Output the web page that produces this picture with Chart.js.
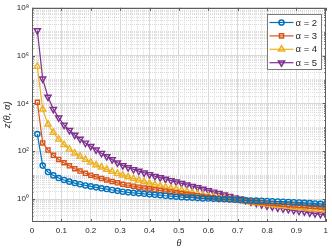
<!DOCTYPE html>
<html>
<head>
<meta charset="utf-8">
<script src="https://cdn.jsdelivr.net/npm/chart.js@4.4.1/dist/chart.umd.min.js"></script>
<style>
    html, body { margin: 0; padding: 0; background: #fff; }
    #wrap { width: 332px; height: 249px; }
</style>
</head>
<body>
<div id="wrap"><canvas id="zChart" width="332" height="249"></canvas></div>
<script>
// theta grid (k/55)
const theta = [0.0182, 0.0364, 0.0545, 0.0727, 0.0909, 0.1091, 0.1273, 0.1455, 0.1636, 0.1818,
    0.2, 0.2182, 0.2364, 0.2545, 0.2727, 0.2909, 0.3091, 0.3273, 0.3455, 0.3636,
    0.3818, 0.4, 0.4182, 0.4364, 0.4545, 0.4727, 0.4909, 0.5091, 0.5273, 0.5455,
    0.5636, 0.5818, 0.6, 0.6182, 0.6364, 0.6545, 0.6727, 0.6909, 0.7091, 0.7273,
    0.7455, 0.7636, 0.7818, 0.8, 0.8182, 0.8364, 0.8545, 0.8727, 0.8909, 0.9091,
    0.9273, 0.9455, 0.9636, 0.9818, 1];

const zAlpha2 = [525, 25.1, 13.5, 9.77, 7.59, 6.31, 5.37, 4.68, 4.17, 3.72,
    3.39, 3.09, 2.82, 2.63, 2.40, 2.21, 2.04, 1.91, 1.82, 1.74,
    1.66, 1.58, 1.51, 1.45, 1.38, 1.32, 1.26, 1.20, 1.17, 1.15,
    1.10, 1.07, 1.05, 1.02, 1.00, 0.977, 0.955, 0.933, 0.912, 0.891,
    0.871, 0.861, 0.851, 0.832, 0.813, 0.794, 0.776, 0.759, 0.741, 0.724,
    0.700, 0.676, 0.655, 0.631, 0.603];
const zAlpha3 = [11200, 224, 112, 67.6, 45.7, 33.1, 24.5, 18.6, 14.8, 12.0,
    10.0, 8.51, 7.24, 6.31, 5.50, 4.79, 4.17, 3.80, 3.47, 3.16,
    2.88, 2.69, 2.45, 2.29, 2.14, 2.00, 1.82, 1.70, 1.58, 1.48,
    1.38, 1.29, 1.20, 1.15, 1.07, 1.02, 0.955, 0.912, 0.871, 0.832,
    0.794, 0.759, 0.724, 0.692, 0.661, 0.638, 0.612, 0.589, 0.568, 0.547,
    0.525, 0.505, 0.487, 0.468, 0.447];
const zAlpha4 = [347000, 5750, 1350, 603, 316, 186, 120, 83.2, 60.3, 44.7,
    34.7, 26.9, 21.4, 17.4, 14.1, 11.7, 10.0, 8.41, 7.13, 6.10,
    5.26, 4.57, 4.00, 3.52, 3.13, 2.82, 2.57, 2.34, 2.09, 1.86,
    1.66, 1.48, 1.35, 1.26, 1.15, 1.07, 1.00, 0.933, 0.871, 0.813,
    0.759, 0.692, 0.646, 0.603, 0.575, 0.537, 0.513, 0.490, 0.457, 0.437,
    0.417, 0.398, 0.372, 0.355, 0.339];
const zAlpha5 = [1.12e7, 107000, 18600, 5750, 2510, 1260, 759, 479, 324, 224,
    162, 115, 83.2, 60.3, 44.7, 33.1, 25.1, 20.9, 17.4, 14.8,
    12.6, 10.7, 9.12, 7.94, 6.92, 6.03, 5.25, 4.57, 3.98, 3.47,
    3.02, 2.63, 2.29, 2.00, 1.74, 1.51, 1.32, 1.15, 1.02, 0.891,
    0.776, 0.676, 0.589, 0.525, 0.479, 0.437, 0.398, 0.372, 0.339, 0.316,
    0.295, 0.269, 0.251, 0.234, 0.219];

const seriesLabels = ['α = 2', 'α = 3', 'α = 4', 'α = 5'];

const xTickValues = [0, 0.1, 0.2, 0.3, 0.4, 0.5, 0.6, 0.7, 0.8, 0.9, 1];
const xTickLabels = ['0', '0.1', '0.2', '0.3', '0.4', '0.5', '0.6', '0.7', '0.8', '0.9', '1'];
const yTickValues = [1, 1e2, 1e4, 1e6, 1e8];
const yTickLabels = ['10⁰', '10²', '10⁴', '10⁶', '10⁸'];

const Y_MIN = 0.11, Y_MAX = 1e8;

// minor grid positions (matlab style)
const xMinor = [];
for (let i = 0; i <= 50; i++) xMinor.push(+(i * 0.02).toFixed(2));
const yMinor = [];
for (let e = -1; e <= 7; e++) {
    for (let m = 1; m <= 9; m++) yMinor.push(m * Math.pow(10, e));
}
yMinor.push(1e8);

function xLabel(v) {
    const i = xTickValues.findIndex(t => Math.abs(t - v) < 1e-6);
    return i >= 0 ? xTickLabels[i] : '';
}
function yLabel(v) {
    const i = yTickValues.findIndex(t => Math.abs(Math.log10(t) - Math.log10(v)) < 1e-6);
    return i >= 0 ? yTickLabels[i] : '';
}

const styles = [
    { color: '#0072BD', point: 'circle', radius: 2.6, rot: 0 },
    { color: '#D95319', point: 'rect', radius: 2.9, rot: 0 },
    { color: '#EDB120', point: 'triangle', radius: 3.6, rot: 0 },
    { color: '#7E2F8E', point: 'triangle', radius: 3.6, rot: 180 }
];
const allSeries = [zAlpha2, zAlpha3, zAlpha4, zAlpha5];

const gridMajor = '#d8d8d8';
const gridMinor = '#dcdcdc';
const axisColor = '#5e5e5e';
const textColor = '#262626';

function drawMarker(ctx, style, x, y, r, rot) {
    ctx.beginPath();
    if (style === 'circle') {
        ctx.arc(x, y, r, 0, Math.PI * 2);
    } else if (style === 'rect') {
        const s = r * Math.SQRT1_2;
        ctx.rect(x - s, y - s, 2 * s, 2 * s);
    } else {
        let a = rot * Math.PI / 180;
        ctx.moveTo(x + Math.sin(a) * r, y - Math.cos(a) * r);
        a += 2 * Math.PI / 3;
        ctx.lineTo(x + Math.sin(a) * r, y - Math.cos(a) * r);
        a += 2 * Math.PI / 3;
        ctx.lineTo(x + Math.sin(a) * r, y - Math.cos(a) * r);
        ctx.closePath();
    }
    ctx.stroke();
}

// box + inward ticks + legend
const boxPlugin = {
    id: 'boxPlugin',
    afterDraw(chart) {
        const { ctx, chartArea: a, scales } = chart;
        ctx.save();
        ctx.strokeStyle = axisColor;
        ctx.lineWidth = 1;
        ctx.beginPath();
        xMinor.forEach(v => {
            if (xLabel(v) === '') return;
            const px = Math.round(scales.x.getPixelForValue(v)) + 0.5;
            ctx.moveTo(px, a.bottom); ctx.lineTo(px, a.bottom - 3);
            ctx.moveTo(px, a.top); ctx.lineTo(px, a.top + 3);
        });
        yMinor.forEach(v => {
            if (v < Y_MIN || v > Y_MAX) return;
            const py = Math.round(scales.y.getPixelForValue(v)) + 0.5;
            const len = yLabel(v) !== '' ? 3 : 1.5;
            ctx.moveTo(a.left, py); ctx.lineTo(a.left + len, py);
            ctx.moveTo(a.right, py); ctx.lineTo(a.right - len, py);
        });
        ctx.stroke();
        ctx.strokeRect(Math.round(a.left) + 0.5, Math.round(a.top) + 0.5,
            Math.round(a.right - a.left) - 1, Math.round(a.bottom - a.top) - 1);

        // legend
        const bw = 54, bh = 55;
        const bx = Math.round(a.right - 5 - bw) + 0.5, by = Math.round(a.top + 6) + 0.5;
        ctx.fillStyle = '#fff';
        ctx.fillRect(bx, by, bw, bh);
        ctx.strokeStyle = '#7a7a7a';
        ctx.strokeRect(bx, by, bw, bh);
        ctx.font = '9.5px "Liberation Sans", Arial, sans-serif';
        ctx.textBaseline = 'middle';
        seriesLabels.forEach((lab, i) => {
            const st = styles[i];
            const ly = by + 8 + i * 13.4;
            ctx.strokeStyle = st.color;
            ctx.lineWidth = 1.2;
            ctx.beginPath();
            ctx.moveTo(bx + 2, ly); ctx.lineTo(bx + 26, ly);
            ctx.stroke();
            ctx.lineWidth = 1.5;
            drawMarker(ctx, st.point, bx + 14, ly, st.radius, st.rot);
            ctx.fillStyle = textColor;
            ctx.fillText(lab, bx + 28, ly + 0.5);
        });
        ctx.restore();
    }
};

const ctx = document.getElementById('zChart').getContext('2d');
new Chart(ctx, {
    type: 'line',
    data: {
        datasets: allSeries.map((vals, i) => ({
            label: seriesLabels[i],
            data: vals.map((v, k) => ({ x: theta[k], y: v })),
            borderColor: styles[i].color,
            borderWidth: 1.2,
            backgroundColor: 'rgba(0,0,0,0)',
            pointStyle: styles[i].point,
            pointRotation: styles[i].rot,
            pointRadius: styles[i].radius,
            pointBorderWidth: 1.4,
            pointBorderColor: styles[i].color,
            pointBackgroundColor: 'rgba(0,0,0,0)',
            tension: 0,
            fill: false
        }))
    },
    options: {
        responsive: false,
        animation: false,
        layout: { padding: { top: 5, right: 6, left: 0, bottom: 0 } },
        plugins: {
            legend: { display: false },
            tooltip: { enabled: false }
        },
        scales: {
            x: {
                type: 'linear',
                min: 0,
                max: 1,
                afterBuildTicks: s => { s.ticks = xMinor.map(v => ({ value: v })); },
                afterFit: s => { s.height = 27; },
                ticks: {
                    autoSkip: false,
                    maxRotation: 0,
                    padding: 4,
                    color: textColor,
                    font: { family: '"Liberation Sans", Arial, sans-serif', size: 8 },
                    callback: v => xLabel(v)
                },
                grid: {
                    drawTicks: false,
                    color: c => (c.tick && xLabel(c.tick.value) !== '') ? gridMajor : gridMinor
                },
                border: {
                    display: false,
                    dash: c => (c.tick && xLabel(c.tick.value) !== '') ? [] : [1, 1]
                },
                title: {
                    display: true,
                    text: 'θ',
                    color: textColor,
                    padding: { top: 0, bottom: 0 },
                    font: { family: '"Liberation Sans", Arial, sans-serif', size: 9, style: 'italic' }
                }
            },
            y: {
                type: 'logarithmic',
                min: Y_MIN,
                max: Y_MAX,
                afterBuildTicks: s => { s.ticks = yMinor.filter(v => v >= Y_MIN && v <= Y_MAX).map(v => ({ value: v })); },
                afterFit: s => { s.width = 32; },
                ticks: {
                    autoSkip: false,
                    padding: 3,
                    color: textColor,
                    font: { family: '"Liberation Sans", Arial, sans-serif', size: 8 },
                    callback: v => yLabel(v)
                },
                grid: {
                    drawTicks: false,
                    color: c => (c.tick && yLabel(c.tick.value) !== '') ? gridMajor : gridMinor
                },
                border: {
                    display: false,
                    dash: c => (c.tick && yLabel(c.tick.value) !== '') ? [] : [1, 1]
                },
                title: {
                    display: true,
                    text: 'z(θ, α)',
                    color: textColor,
                    padding: { top: 2, bottom: 0 },
                    font: { family: '"Liberation Sans", Arial, sans-serif', size: 9.5, style: 'italic' }
                }
            }
        }
    },
    plugins: [boxPlugin]
});
</script>
</body>
</html>
